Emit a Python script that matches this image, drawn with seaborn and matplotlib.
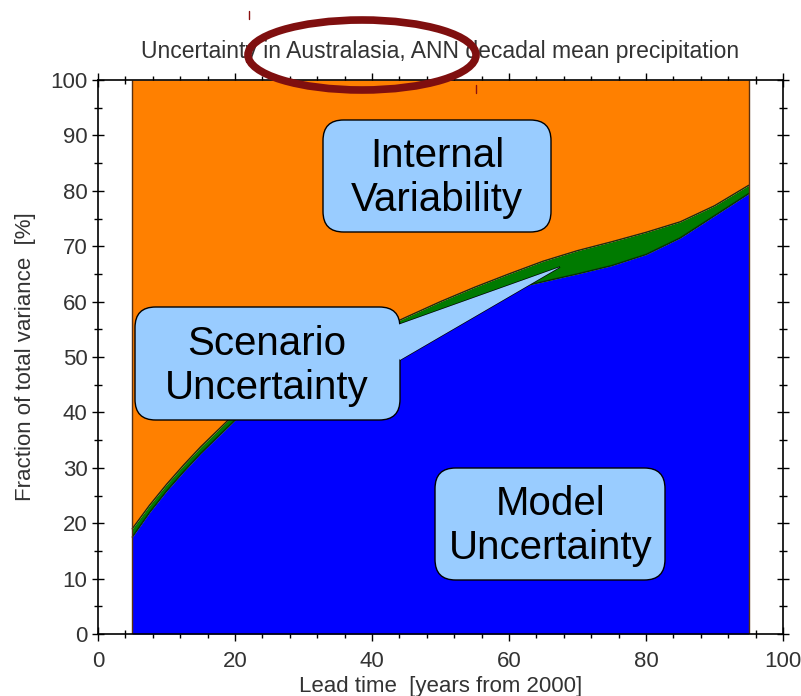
import numpy as np
import pandas as pd
import matplotlib
matplotlib.use("Agg")
import matplotlib.pyplot as plt
import seaborn as sns
from matplotlib.patches import FancyBboxPatch, Polygon, Ellipse
from matplotlib.lines import Line2D

# Lead time (years from 2000)
lead_time = [5, 7.5, 10, 12.5, 15, 20, 25, 30, 35, 40, 45, 50, 55, 60, 65, 70, 75, 80,
             85, 90, 95]
# Cumulative fraction of total variance [%]
model_frac = [17.5, 21.9, 25.8, 29.3, 32.6, 38.6, 43.0, 46.5, 50.0, 53.0, 56.0, 58.0,
              60.3, 62.2, 63.6, 65.0, 66.5, 68.5, 71.5, 75.5, 79.5]
model_plus_scenario = [19.0, 23.2, 27.0, 30.5, 33.8, 39.8, 44.3, 47.8, 51.2, 54.3, 57.2,
                       60.0, 62.6, 65.0, 67.3, 69.2, 70.8, 72.5, 74.4, 77.3, 81.0]

x_ticks = [0, 20, 40, 60, 80, 100]
y_ticks = [0, 10, 20, 30, 40, 50, 60, 70, 80, 90, 100]

df = pd.DataFrame({"lead": lead_time, "model": model_frac, "scen": model_plus_scenario})
df["total"] = 100.0

sns.set_style("ticks")
plt.rcParams["font.family"] = ["Liberation Sans", "DejaVu Sans"]

fig = plt.figure(figsize=(8.01, 6.96), dpi=100)
ax = fig.add_axes([98 / 801, 1 - 634 / 696, 685 / 801, 554 / 696])

ORANGE = "#FF8000"
BLUE = "#0000FF"
GREEN = "#007A00"
TXT = "#333333"

ax.fill_between(df["lead"], 0, df["model"], color=BLUE, lw=0, zorder=1)
ax.fill_between(df["lead"], df["model"], df["scen"], color=GREEN, lw=0, zorder=1)
ax.fill_between(df["lead"], df["scen"], df["total"], color=ORANGE, lw=0, zorder=1)

# outlines of the stacked regions
sns.lineplot(data=df, x="lead", y="model", color="#0A2A0A", lw=1.0, ax=ax, zorder=2)
sns.lineplot(data=df, x="lead", y="scen", color="#1E2A10", lw=1.0, ax=ax, zorder=2)
ax.vlines([lead_time[0], lead_time[-1]], [0, 0], [100, 100],
          colors=["#5A3010"], lw=1.0, zorder=2)

ax.set_xlim(0, 100)
ax.set_ylim(0, 100)
ax.set_xticks(x_ticks)
ax.set_yticks(y_ticks)
ax.set_xticks(np.arange(0, 101, 4), minor=True)
ax.set_yticks(np.arange(0, 101, 5), minor=True)

for sp in ax.spines.values():
    sp.set_visible(True)
    sp.set_color("black")
    sp.set_linewidth(1.2)

ax.tick_params(axis="both", which="both", top=True, right=True, colors="black",
               labelcolor=TXT, labelsize=16)
ax.tick_params(axis="x", which="major", direction="inout", length=10, width=1.0, pad=7)
ax.tick_params(axis="x", which="minor", direction="inout", length=6, width=1.0)
ax.tick_params(axis="y", which="major", direction="inout", length=9, width=1.0, pad=3)
ax.tick_params(axis="y", which="minor", direction="inout", length=6, width=1.0)

ax.set_xlabel("Lead time  [years from 2000]", fontsize=16, color=TXT, labelpad=3)
ax.set_ylabel("Fraction of total variance  [%]", fontsize=16, color=TXT, labelpad=10)
ax.set_title("Uncertainty in Australasia, ANN decadal mean precipitation",
             fontsize=16.5, color=TXT, pad=16)


def px(x, y):
    """Convert figure pixel position to data coordinates."""
    return (x - 98) / 6.85, (634 - y) / 5.54


BOX = "#99CCFF"
box_font = dict(family=["Liberation Sans", "DejaVu Sans"], fontsize=29,
                color="black", ha="center", va="center", linespacing=1.18, zorder=6)


def rounded_box(x0, y0, x1, y1, z=4):
    (dx0, dy1) = px(x0, y1)
    (dx1, dy0) = px(x1, y0)
    p = FancyBboxPatch((dx0, dy1), dx1 - dx0, dy0 - dy1,
                       boxstyle="round,pad=0,rounding_size=3.0",
                       mutation_aspect=6.85 / 5.54,
                       facecolor=BOX, edgecolor="black", lw=1.0, zorder=z)
    ax.add_patch(p)


# Internal variability box
rounded_box(323, 120, 551, 232)
ax.text(*px(437, 178), "Internal\nVariability", **box_font)

# Scenario uncertainty callout
pointer = [px(378, 332), px(560, 267), px(400, 360)]
ax.add_patch(Polygon(pointer, closed=True, facecolor=BOX, edgecolor="black", lw=1.0, zorder=3))
rounded_box(135, 307, 400, 420)
ax.add_patch(Polygon(pointer, closed=True, facecolor=BOX, edgecolor="none", lw=0, zorder=5))
ax.text(*px(267, 366), "Scenario\nUncertainty", **box_font)

# Model uncertainty box
rounded_box(435, 468, 665, 580)
ax.text(*px(551, 526), "Model\nUncertainty", **box_font)

# highlight ring around the region name in the title
fig.patches.append(Ellipse((362 / 801, 1 - 55 / 696), 228 / 801, 70 / 696,
                           transform=fig.transFigure, fill=False,
                           edgecolor="#7F0F0F", lw=5.5, zorder=10))
fig.lines.append(Line2D([249 / 801, 249 / 801], [1 - 11 / 696, 1 - 19 / 696],
                        transform=fig.transFigure, color="#8B1010", lw=1.0))
fig.lines.append(Line2D([476 / 801, 476 / 801], [1 - 85 / 696, 1 - 93 / 696],
                        transform=fig.transFigure, color="#8B1010", lw=1.0))

fig.savefig("out.png", dpi=100, facecolor="white")
